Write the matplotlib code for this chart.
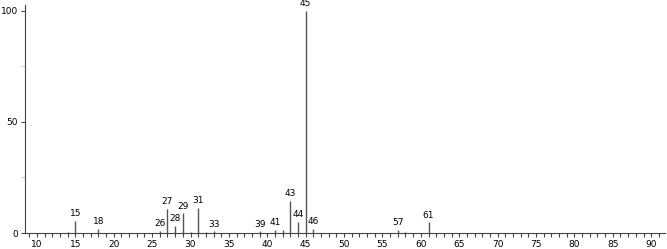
import matplotlib.pyplot as plt
import numpy as np

mz = [14, 15, 18, 26, 27, 28, 29, 30, 31, 32, 33, 39, 41, 42, 43, 44, 45, 46, 57, 58, 61]
intensidad = [0.6, 5.6, 1.9, 1.0, 11.0, 3.2, 8.8, 0.6, 11.4, 0.5, 0.7, 0.8, 1.5, 1.2, 14.6, 5.0, 100, 2.0, 1.3, 0.6, 4.8]
etiquetados = [15, 18, 26, 27, 28, 29, 31, 33, 39, 41, 43, 44, 45, 46, 57, 61]

fig = plt.figure(figsize=(6.67, 2.49), dpi=100)
ax = fig.add_axes([25 / 667, 16 / 249, 640 / 667, 228 / 249])

ax.vlines(mz, 0, intensidad, color='#555555', linewidth=1.0)

for m, v in zip(mz, intensidad):
    if m in etiquetados:
        ax.text(m, v + 1.2, str(m), ha='center', va='bottom', fontsize=6.5, clip_on=False)

ax.set_xlim(8.44, 91.8)
ax.set_ylim(0, 102.7)

ax.set_xticks(np.arange(10, 91, 5))
ax.set_xticks(np.arange(9, 92, 1), minor=True)
ax.set_yticks([0, 50, 100])
ax.set_yticks([25, 75], minor=True)
ax.tick_params(axis='both', which='both', direction='out', length=3, width=0.8,
               labelsize=6.5, pad=2, color='#444444')
ax.tick_params(axis='y', which='minor', color='#cccccc')

for lado in ['top', 'right']:
    ax.spines[lado].set_visible(False)
for lado in ['left', 'bottom']:
    ax.spines[lado].set_color('#444444')
    ax.spines[lado].set_linewidth(0.8)

fig.savefig('out.png', dpi=100)
